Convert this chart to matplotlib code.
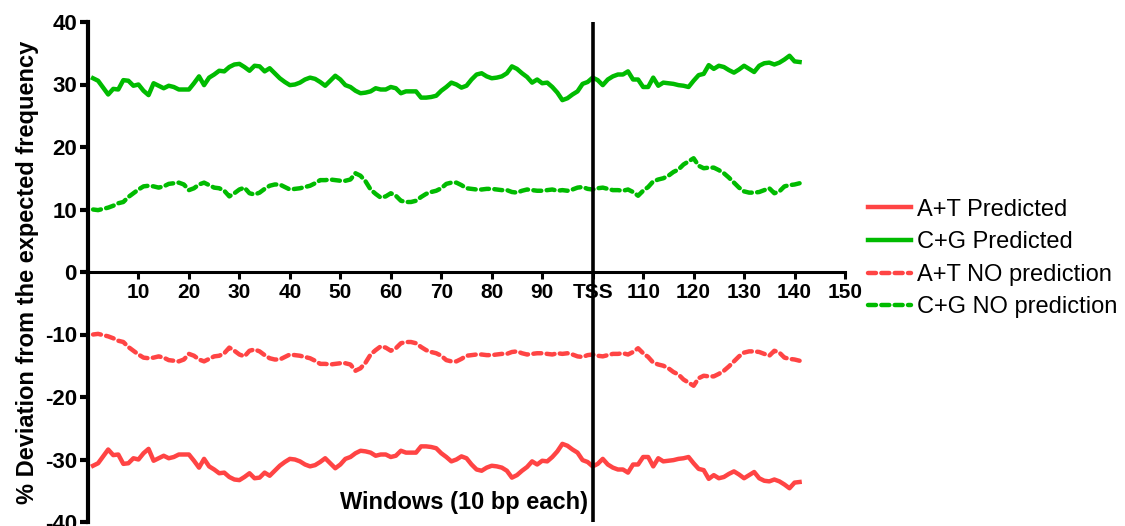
import numpy as np
import matplotlib.pyplot as plt

plt.rcParams["font.family"] = ["Liberation Sans", "DejaVu Sans"]

# window number (10 bp each), window 100 = TSS
windows = list(range(1, 142))

cg_predicted = [
    31.0, 30.6, 29.5, 28.4, 29.3, 29.2, 30.7, 30.6, 29.8, 30.0,
    29.0, 28.3, 30.2, 29.8, 29.4, 29.8, 29.6, 29.2, 29.2, 29.2,
    30.2, 31.3, 29.9, 31.1, 31.6, 32.2, 32.1, 32.8, 33.2, 33.3,
    32.8, 32.2, 33.0, 32.9, 32.1, 32.6, 31.8, 31.0, 30.4, 29.9,
    30.0, 30.3, 30.8, 31.1, 30.9, 30.4, 29.8, 30.6, 31.4, 30.8,
    29.9, 29.6, 29.0, 28.6, 28.7, 28.9, 29.4, 29.2, 29.2, 29.6,
    29.4, 28.6, 28.9, 28.9, 28.9, 27.9, 27.9, 28.0, 28.2, 29.0,
    29.6, 30.3, 30.0, 29.5, 29.8, 30.8, 31.6, 31.8, 31.3, 31.0,
    31.1, 31.3, 31.8, 32.9, 32.5, 31.8, 31.2, 30.3, 30.8, 30.2,
    30.3, 29.6, 28.7, 27.5, 27.8, 28.4, 28.9, 30.1, 30.4, 31.1,
    30.7, 29.9, 30.8, 31.3, 31.6, 31.6, 32.1, 30.8, 30.8, 29.6,
    29.6, 31.1, 29.8, 30.3, 30.2, 30.1, 29.9, 29.8, 29.6, 30.6,
    31.5, 31.7, 33.1, 32.5, 33.0, 32.8, 32.3, 31.9, 32.4, 33.0,
    32.5, 32.0, 33.0, 33.4, 33.5, 33.2, 33.5, 34.0, 34.6, 33.7,
    33.6]

at_predicted = [
    -31.0, -30.6, -29.5, -28.4, -29.3, -29.2, -30.7, -30.6, -29.8, -30.0,
    -29.0, -28.3, -30.2, -29.8, -29.4, -29.8, -29.6, -29.2, -29.2, -29.2,
    -30.2, -31.3, -29.9, -31.1, -31.6, -32.2, -32.1, -32.8, -33.2, -33.3,
    -32.8, -32.2, -33.0, -32.9, -32.1, -32.6, -31.8, -31.0, -30.4, -29.9,
    -30.0, -30.3, -30.8, -31.1, -30.9, -30.4, -29.8, -30.6, -31.4, -30.8,
    -29.9, -29.6, -29.0, -28.6, -28.7, -28.9, -29.4, -29.2, -29.2, -29.6,
    -29.4, -28.6, -28.9, -28.9, -28.9, -27.9, -27.9, -28.0, -28.2, -29.0,
    -29.6, -30.3, -30.0, -29.5, -29.8, -30.8, -31.6, -31.8, -31.3, -31.0,
    -31.1, -31.3, -31.8, -32.9, -32.5, -31.8, -31.2, -30.3, -30.8, -30.2,
    -30.3, -29.6, -28.7, -27.5, -27.8, -28.4, -28.9, -30.1, -30.4, -31.1,
    -30.7, -29.9, -30.8, -31.3, -31.6, -31.6, -32.1, -30.8, -30.8, -29.6,
    -29.6, -31.1, -29.8, -30.3, -30.2, -30.1, -29.9, -29.8, -29.6, -30.6,
    -31.5, -31.7, -33.1, -32.5, -33.0, -32.8, -32.3, -31.9, -32.4, -33.0,
    -32.5, -32.0, -33.0, -33.4, -33.5, -33.2, -33.5, -34.0, -34.6, -33.7,
    -33.6]

cg_no_pred = [
    10.0, 9.9, 10.1, 10.3, 10.6, 11.0, 11.2, 12.0, 12.6, 13.2,
    13.7, 13.8, 13.7, 13.5, 13.7, 14.1, 14.2, 14.3, 14.0, 13.1,
    13.4, 14.0, 14.3, 13.9, 13.5, 13.4, 13.0, 12.1, 12.6, 13.2,
    13.5, 12.6, 12.4, 12.7, 13.3, 13.8, 14.0, 14.0, 13.6, 13.2,
    13.3, 13.4, 13.6, 13.8, 14.2, 14.7, 14.7, 14.8, 14.7, 14.6,
    14.6, 14.8, 15.8, 15.4, 14.5, 13.2, 12.5, 11.9, 12.1, 12.6,
    12.2, 11.4, 11.2, 11.2, 11.4, 12.0, 12.5, 12.8, 13.0, 13.4,
    14.1, 14.3, 14.3, 13.9, 13.4, 13.3, 13.2, 13.2, 13.3, 13.3,
    13.2, 13.1, 13.1, 12.8, 12.7, 13.0, 13.2, 13.1, 13.0, 13.0,
    13.1, 13.2, 13.0, 13.1, 13.0, 13.2, 13.5, 13.6, 13.3, 13.2,
    13.4, 13.5, 13.3, 13.1, 13.1, 13.0, 13.2, 12.8, 12.2, 13.0,
    13.6, 14.5, 14.8, 15.0, 15.4, 16.0, 16.4, 17.2, 17.7, 18.2,
    17.0, 16.6, 16.7, 16.7, 16.3, 15.8, 15.1, 14.3, 13.5, 12.9,
    12.7, 12.7, 12.8, 13.1, 13.4, 12.6, 12.9, 13.7, 13.9, 14.0,
    14.2]

at_no_pred = [
    -10.0, -9.9, -10.1, -10.3, -10.6, -11.0, -11.2, -12.0, -12.6, -13.2,
    -13.7, -13.8, -13.7, -13.5, -13.7, -14.1, -14.2, -14.3, -14.0, -13.1,
    -13.4, -14.0, -14.3, -13.9, -13.5, -13.4, -13.0, -12.1, -12.6, -13.2,
    -13.5, -12.6, -12.4, -12.7, -13.3, -13.8, -14.0, -14.0, -13.6, -13.2,
    -13.3, -13.4, -13.6, -13.8, -14.2, -14.7, -14.7, -14.8, -14.7, -14.6,
    -14.6, -14.8, -15.8, -15.4, -14.5, -13.2, -12.5, -11.9, -12.1, -12.6,
    -12.2, -11.4, -11.2, -11.2, -11.4, -12.0, -12.5, -12.8, -13.0, -13.4,
    -14.1, -14.3, -14.3, -13.9, -13.4, -13.3, -13.2, -13.2, -13.3, -13.3,
    -13.2, -13.1, -13.1, -12.8, -12.7, -13.0, -13.2, -13.1, -13.0, -13.0,
    -13.1, -13.2, -13.0, -13.1, -13.0, -13.2, -13.5, -13.6, -13.3, -13.2,
    -13.4, -13.5, -13.3, -13.1, -13.1, -13.0, -13.2, -12.8, -12.2, -13.0,
    -13.6, -14.5, -14.8, -15.0, -15.4, -16.0, -16.4, -17.2, -17.7, -18.2,
    -17.0, -16.6, -16.7, -16.7, -16.3, -15.8, -15.1, -14.3, -13.5, -12.9,
    -12.7, -12.7, -12.8, -13.1, -13.4, -12.6, -12.9, -13.7, -13.9, -14.0,
    -14.2]

xticks = [10, 20, 30, 40, 50, 60, 70, 80, 90, 100, 110, 120, 130, 140, 150]
xticklabels = ["10", "20", "30", "40", "50", "60", "70", "80", "90", "TSS",
               "110", "120", "130", "140", "150"]
yticks = [-40, -30, -20, -10, 0, 10, 20, 30, 40]

red = "#FF4444"
green = "#00BB00"

fig = plt.figure(figsize=(11.25, 5.26), dpi=100)
ax = fig.add_axes([88/1125, 4/526, 757/1125, 500/526])

ax.plot(windows, at_predicted, color=red, lw=3.2, label="A+T Predicted")
ax.plot(windows, cg_predicted, color=green, lw=3.2, label="C+G Predicted")
ax.plot(windows, at_no_pred, color=red, lw=3.2, dashes=(1.8, 1.2),
        dash_capstyle="round", label="A+T NO prediction")
ax.plot(windows, cg_no_pred, color=green, lw=3.2, dashes=(1.8, 1.2),
        dash_capstyle="round", label="C+G NO prediction")

# TSS marker
ax.axvline(100, color="black", lw=2.6)

ax.set_xlim(0, 150)
ax.set_ylim(-40, 40)
ax.spines["top"].set_visible(False)
ax.spines["right"].set_visible(False)
ax.spines["bottom"].set_position(("data", 0))
ax.spines["left"].set_linewidth(3.0)
ax.spines["bottom"].set_linewidth(2.2)

ax.set_xticks(xticks)
ax.set_xticklabels(xticklabels, fontsize=15, fontweight="bold")
ax.set_yticks(yticks)
ax.set_yticklabels([str(v) for v in yticks], fontsize=16, fontweight="bold")
ax.tick_params(axis="y", direction="out", length=6, width=3.0, pad=2)
ax.tick_params(axis="x", direction="out", length=5, width=2.2, pad=3)

ax.set_ylabel("% Deviation from the expected frequency", fontsize=17,
              fontweight="bold", labelpad=4)
fig.text(464/1125, 1 - 502/526, "Windows (10 bp each)", fontsize=17,
         fontweight="bold", ha="center", va="center")

# legend sits outside the axes, to the right
ax.legend(loc="center left", bbox_to_anchor=(1.0175, 0.527), frameon=False,
          fontsize=17, handlelength=1.85, handletextpad=0.25,
          labelspacing=0.45, borderaxespad=0)

plt.savefig("out.png", dpi=100)
